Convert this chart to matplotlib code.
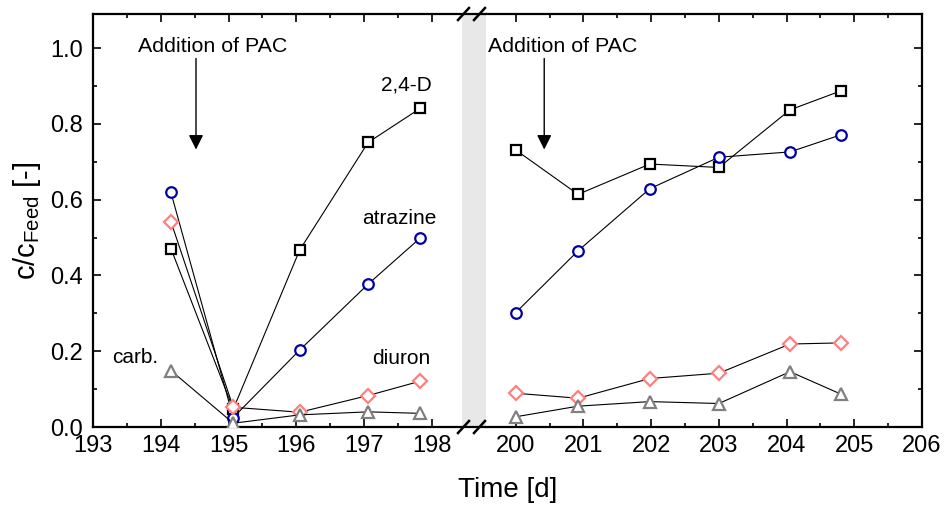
import numpy as np
import matplotlib.pyplot as plt
from matplotlib.lines import Line2D
from matplotlib.ticker import FixedLocator, MultipleLocator

plt.rcParams['font.family'] = ['Liberation Sans', 'DejaVu Sans']

# data, first period (left panel)
t1 = [194.15, 195.07, 196.05, 197.06, 197.83]
d24_1 = [0.471, 0.047, 0.467, 0.751, 0.841]
atra_1 = [0.619, 0.025, 0.203, 0.377, 0.499]
diur_1 = [0.542, 0.052, 0.039, 0.083, 0.121]
carb_1 = [0.149, 0.010, 0.032, 0.040, 0.036]

# data, second period (right panel)
t2 = [200.0, 200.92, 201.98, 203.0, 204.05, 204.80]
d24_2 = [0.731, 0.614, 0.694, 0.685, 0.837, 0.887]
atra_2 = [0.302, 0.465, 0.629, 0.712, 0.726, 0.771]
diur_2 = [0.089, 0.076, 0.128, 0.142, 0.219, 0.222]
carb_2 = [0.027, 0.055, 0.067, 0.062, 0.146, 0.087]

W, H = 945, 505
fig = plt.figure(figsize=(9.45, 5.05), dpi=100)

x0, x_gap, x1 = 93, 486, 922
ytop, ybot = 14, 427
bottom = (H - ybot) / H
height = (ybot - ytop) / H
ax1 = fig.add_axes([x0 / W, bottom, (x_gap - x0) / W, height])
ax2 = fig.add_axes([x_gap / W, bottom, (x1 - x_gap) / W, height])

styles = [
    ('s', 'black', 6.8),
    ('o', '#0000a8', 7.6),
    ('D', '#ff7f7f', 7.4),
    ('^', '#808080', 8.8),
]

for ax, t, series in [(ax1, t1, [d24_1, atra_1, diur_1, carb_1]),
                      (ax2, t2, [d24_2, atra_2, diur_2, carb_2])]:
    for y, (m, c, ms) in zip(series, styles):
        ax.plot(t, y, color='black', lw=0.8, marker=m, ms=ms,
                mfc='white', mec=c, mew=1.6, zorder=3)
    ax.set_ylim(0, 1.09)
    ax.tick_params(which='both', direction='in', top=True, labelsize=17,
                   width=1.2)
    ax.tick_params(which='major', length=6)
    ax.tick_params(which='minor', length=3)
    ax.tick_params(axis='x', pad=6)
    ax.yaxis.set_major_locator(MultipleLocator(0.2))
    ax.yaxis.set_minor_locator(MultipleLocator(0.1))
    for s in ax.spines.values():
        s.set_linewidth(1.6)

ax1.set_xlim(193, 198.80)
ax1.set_xticks([193, 194, 195, 196, 197, 198])
ax1.xaxis.set_minor_locator(FixedLocator([193.5, 194.5, 195.5, 196.5, 197.5]))
ax1.axvspan(198.45, 198.80, color='#e8e8e8', lw=0, zorder=0)
ax1.spines['right'].set_visible(False)
ax1.set_yticks([0, 0.2, 0.4, 0.6, 0.8, 1.0])
ax1.set_yticklabels(['0.0', '0.2', '0.4', '0.6', '0.8', '1.0'])
ax1.tick_params(axis='y', pad=7)
ax1.set_ylabel(r'c/c$_{\mathregular{Feed}}$ [-]', fontsize=21, labelpad=5)

ax2.set_xlim(199.56, 206.0)
ax2.set_xticks([200, 201, 202, 203, 204, 205, 206])
ax2.xaxis.set_minor_locator(FixedLocator([200.5, 201.5, 202.5, 203.5, 204.5, 205.5]))
ax2.spines['left'].set_visible(False)
ax2.tick_params(axis='y', which='both', left=False, right=True, labelleft=False)

# annotations
for ax, xa in [(ax1, 194.52), (ax2, 200.42)]:
    ax.annotate('', xy=(xa, 0.725), xytext=(xa, 0.98),
                arrowprops=dict(arrowstyle='-|>', color='black', lw=1.0,
                                mutation_scale=22))
ax1.text(194.76, 1.003, 'Addition of PAC', fontsize=15.4, ha='center', va='center')
ax2.text(199.59, 1.003, 'Addition of PAC', fontsize=15.4, ha='left', va='center')

ax1.text(197.63, 0.902, '2,4-D', fontsize=15, ha='center', va='center')
ax1.text(197.52, 0.551, 'atrazine', fontsize=15, ha='center', va='center')
ax1.text(197.55, 0.181, 'diuron', fontsize=15, ha='center', va='center')
ax1.text(193.62, 0.184, 'carb.', fontsize=15, ha='center', va='center')

fig.text((x0 + x1) / 2 / W, 1 - 490 / H, 'Time [d]', fontsize=20,
         ha='center', va='center')

# break marks
for yb in (ytop, ybot):
    for xs in (458, 474):
        fig.add_artist(Line2D([xs / W, (xs + 11) / W],
                              [1 - (yb + 6) / H, 1 - (yb - 6) / H],
                              transform=fig.transFigure, color='black', lw=1.8))

fig.savefig('out.png', dpi=100)
